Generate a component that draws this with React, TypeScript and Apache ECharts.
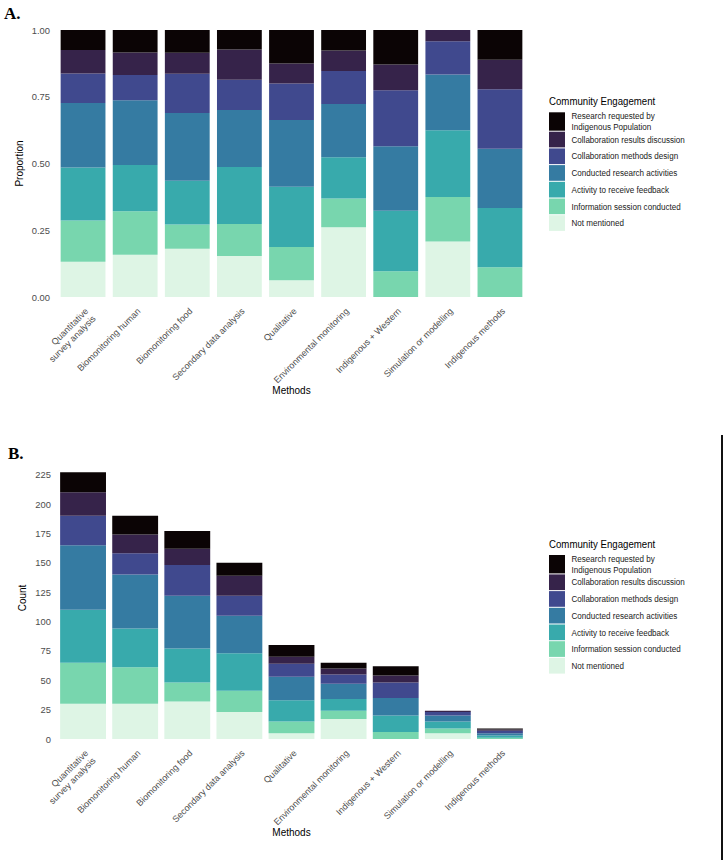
import React, { useEffect, useRef } from "react";
import * as echarts from "echarts";

// Study methods along the x axis
const methods = [
  "Quantitative\nsurvey analysis",
  "Biomonitoring human",
  "Biomonitoring food",
  "Secondary data analysis",
  "Qualitative",
  "Environmental monitoring",
  "Indigenous + Western",
  "Simulation or modelling",
  "Indigenous methods",
];

// Engagement levels, bottom of the stack first
const engagementLevels = [
  "Not mentioned",
  "Information session conducted",
  "Activity to receive feedback",
  "Conducted research activities",
  "Collaboration methods design",
  "Collaboration results discussion",
  "Research requested by\nIndigenous Population",
];

// Counts of studies per method for each engagement level
const notMentioned = [30, 30, 32, 23, 5, 17, 0, 5, 0];
const informationSession = [35, 31, 16, 18, 10, 7, 6, 4, 1];
const receiveFeedback = [45, 33, 29, 32, 18, 10, 14, 6, 2];
const conductedResearch = [55, 46, 45, 32, 20, 13, 15, 5, 2];
const methodsDesign = [25, 18, 26, 17, 11, 8, 13, 3, 2];
const resultsDiscussion = [20, 16, 14, 17, 6, 5, 6, 1, 1];
const researchRequested = [17, 16, 15, 11, 10, 5, 8, 0, 1];

const levelCounts = [
  notMentioned,
  informationSession,
  receiveFeedback,
  conductedResearch,
  methodsDesign,
  resultsDiscussion,
  researchRequested,
];

const levelColors = [
  "#DEF5E5",
  "#78D6AE",
  "#38AAAC",
  "#357BA2",
  "#40498E",
  "#36234A",
  "#0B0405",
];

const proportionTicks = [0, 0.25, 0.5, 0.75, 1];
const countTicks = [0, 25, 50, 75, 100, 125, 150, 175, 200, 225];

const sans = "'Liberation Sans', Arial, sans-serif";

function legendElements(offsetY: number) {
  const els: any[] = [];
  els.push({
    type: "text",
    x: 549,
    y: 100.7 + offsetY,
    scaleX: 0.84,
    style: {
      text: "Community Engagement",
      font: `11.5px ${sans}`,
      fill: "#000",
      verticalAlign: "middle",
      align: "left",
    },
  });
  const n = engagementLevels.length;
  for (let k = 0; k < n; k++) {
    const idx = n - 1 - k;
    const top = k === 0 ? 112.3 : 131.7 + (k - 1) * 16.7;
    const h = k === 0 ? 18.4 : 15.7;
    els.push({
      type: "rect",
      shape: { x: 549, y: top + offsetY, width: 16, height: h },
      style: { fill: levelColors[idx] },
    });
    els.push({
      type: "text",
      x: 571.5,
      y: top + h / 2 + offsetY,
      scaleX: 0.84,
      style: {
        text: engagementLevels[idx],
        font: `9.6px ${sans}`,
        lineHeight: 11.5,
        fill: "#1a1a1a",
        verticalAlign: "middle",
        align: "left",
      },
    });
  }
  return els;
}

export default function App() {
  const ref = useRef<HTMLDivElement>(null);

  useEffect(() => {
    if (!ref.current) return;
    const chart = echarts.init(ref.current, undefined, { renderer: "svg" });

    const totals = methods.map((_, j) =>
      levelCounts.reduce((s, arr) => s + arr[j], 0)
    );

    const xAxisBase = (gridIndex: number) => ({
      type: "category",
      gridIndex,
      data: methods,
      name: "Methods",
      nameLocation: "middle",
      nameGap: 88,
      nameMoveOverlap: false,
      nameTextStyle: { fontFamily: sans, fontSize: 10, color: "#000" },
      axisLine: { show: false },
      axisTick: { show: false },
      splitLine: { show: false },
      axisLabel: {
        interval: 0,
        rotate: 45,
        align: "right",
        verticalAlign: "top",
        margin: 9,
        fontFamily: sans,
        fontSize: 9,
        lineHeight: 10.5,
        color: "#4d4d4d",
      },
    });

    const series: any[] = [];
    levelCounts.forEach((arr, i) => {
      series.push({
        type: "bar",
        name: engagementLevels[i],
        stack: "proportion",
        xAxisIndex: 0,
        yAxisIndex: 0,
        barCategoryGap: "14%",
        itemStyle: { color: levelColors[i] },
        data: arr.map((v, j) => v / totals[j]),
      });
      series.push({
        type: "bar",
        name: engagementLevels[i],
        stack: "count",
        xAxisIndex: 1,
        yAxisIndex: 1,
        barCategoryGap: "12%",
        itemStyle: { color: levelColors[i] },
        data: arr,
      });
    });

    chart.setOption({
      animation: false,
      backgroundColor: "#ffffff",
      grid: [
        { left: 57, top: 30, width: 469, height: 267 },
        { left: 57, top: 457, width: 469, height: 282 },
      ],
      xAxis: [xAxisBase(0), xAxisBase(1)],
      yAxis: [
        {
          type: "value",
          gridIndex: 0,
          min: 0,
          max: 1,
          interval: 0.25,
          name: "Proportion",
          nameLocation: "middle",
          nameGap: 33,
          nameMoveOverlap: false,
          nameTextStyle: { fontFamily: sans, fontSize: 10, color: "#000" },
          axisLine: { show: false },
          axisTick: { show: false },
          splitLine: { show: false },
          axisLabel: {
            margin: 7,
            padding: [5, 0, 0, 0],
            fontFamily: sans,
            fontSize: 9.4,
            color: "#4d4d4d",
            formatter: (v: number) =>
              proportionTicks.includes(v) ? v.toFixed(2) : "",
          },
        },
        {
          type: "value",
          gridIndex: 1,
          min: 0,
          max: 240,
          interval: 25,
          name: "Count",
          nameLocation: "middle",
          nameGap: 30,
          nameMoveOverlap: false,
          nameTextStyle: { fontFamily: sans, fontSize: 10, color: "#000" },
          axisLine: { show: false },
          axisTick: { show: false },
          splitLine: { show: false },
          axisLabel: {
            margin: 6,
            fontFamily: sans,
            fontSize: 9.4,
            color: "#4d4d4d",
            formatter: (v: number) => (countTicks.includes(v) ? String(v) : ""),
          },
        },
      ],
      series,
      graphic: [
        {
          type: "text",
          x: 4,
          y: 13.5,
          style: {
            text: "A.",
            font: "bold 17px 'Liberation Serif', serif",
            fill: "#000",
            verticalAlign: "middle",
          },
        },
        {
          type: "text",
          x: 8,
          y: 453,
          style: {
            text: "B.",
            font: "bold 17px 'Liberation Serif', serif",
            fill: "#000",
            verticalAlign: "middle",
          },
        },
        {
          type: "line",
          shape: { x1: 722, y1: 435, x2: 722, y2: 860 },
          style: { stroke: "#111", lineWidth: 2 },
        },
        ...legendElements(0),
        ...legendElements(442.7),
      ],
    });

    return () => chart.dispose();
  }, []);

  return (
    <div
      ref={ref}
      style={{ position: "absolute", left: 0, top: 0, width: 728, height: 864 }}
    />
  );
}
